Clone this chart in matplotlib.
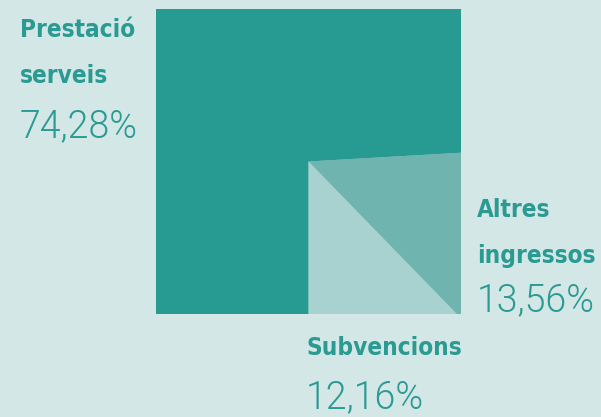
import numpy as np
import matplotlib.pyplot as plt
from matplotlib.patches import Polygon

# Square "pie": share of income by source
labels = ["Subvencions", "Altres\ningressos", "Prestació\nserveis"]
values = [12.16, 13.56, 74.28]
value_text = ["12,16%", "13,56%", "74,28%"]
colors = ["#a8d2cf", "#6fb4ae", "#279a92"]

bg = "#d3e7e6"
text_col = "#2a9a92"


def perimeter_point(t, x0, y0, side):
    """Point on square perimeter, t in [0,1), starting at bottom centre going
    towards the right (counter-clockwise on screen)."""
    p = (t * 4 * side + side / 2) % (4 * side)
    if p < side:            # bottom edge, left -> right
        return (x0 + p, y0 + side)
    p -= side
    if p < side:            # right edge, bottom -> top
        return (x0 + side, y0 + side - p)
    p -= side
    if p < side:            # top edge, right -> left
        return (x0 + side - p, y0)
    p -= side
    return (x0, y0 + p)     # left edge, top -> bottom


def wedge(t0, t1, x0, y0, side):
    cx, cy = x0 + side / 2, y0 + side / 2
    pts = [(cx, cy), perimeter_point(t0, x0, y0, side)]
    # add corners between t0 and t1
    for k in range(5):
        c = (k * 0.25 + 0.125)
        if t0 < c < t1:
            pts.append(perimeter_point(c, x0, y0, side))
    pts.append(perimeter_point(t1 - 1e-9, x0, y0, side))
    return pts


fig = plt.figure(figsize=(6.01, 4.17), dpi=100)
fig.patch.set_facecolor(bg)
ax = fig.add_axes([0, 0, 1, 1])
ax.set_xlim(0, 601)
ax.set_ylim(417, 0)
ax.axis("off")

x0, y0, side = 156, 9, 305
frac = np.array(values) / sum(values)
start = 0.0
for f, c in zip(frac, colors):
    ax.add_patch(Polygon(wedge(start, start + f, x0, y0, side), closed=True,
                         facecolor=c, edgecolor="none"))
    start += f

bold = dict(family="DejaVu Sans", stretch="condensed", weight="bold",
            fontsize=17.5, color=text_col)
light = dict(family="Roboto", weight=300, fontsize=27, color=text_col)

# label positions (name baseline, percent baseline)
spots = [(306, 355, 408), (477, 217, 311), (20, 37, 137)]
for lab, vt, (x, yb, yp) in zip(labels, value_text, spots):
    ax.text(x, yb, lab.split("\n")[0], va="baseline", ha="left", **bold)
    if "\n" in lab:
        ax.text(x, yb + 46, lab.split("\n")[1], va="baseline", ha="left", **bold)
    ax.text(x, yp, vt, va="baseline", ha="left", **light)

fig.savefig("out.png", dpi=100, facecolor=bg)
